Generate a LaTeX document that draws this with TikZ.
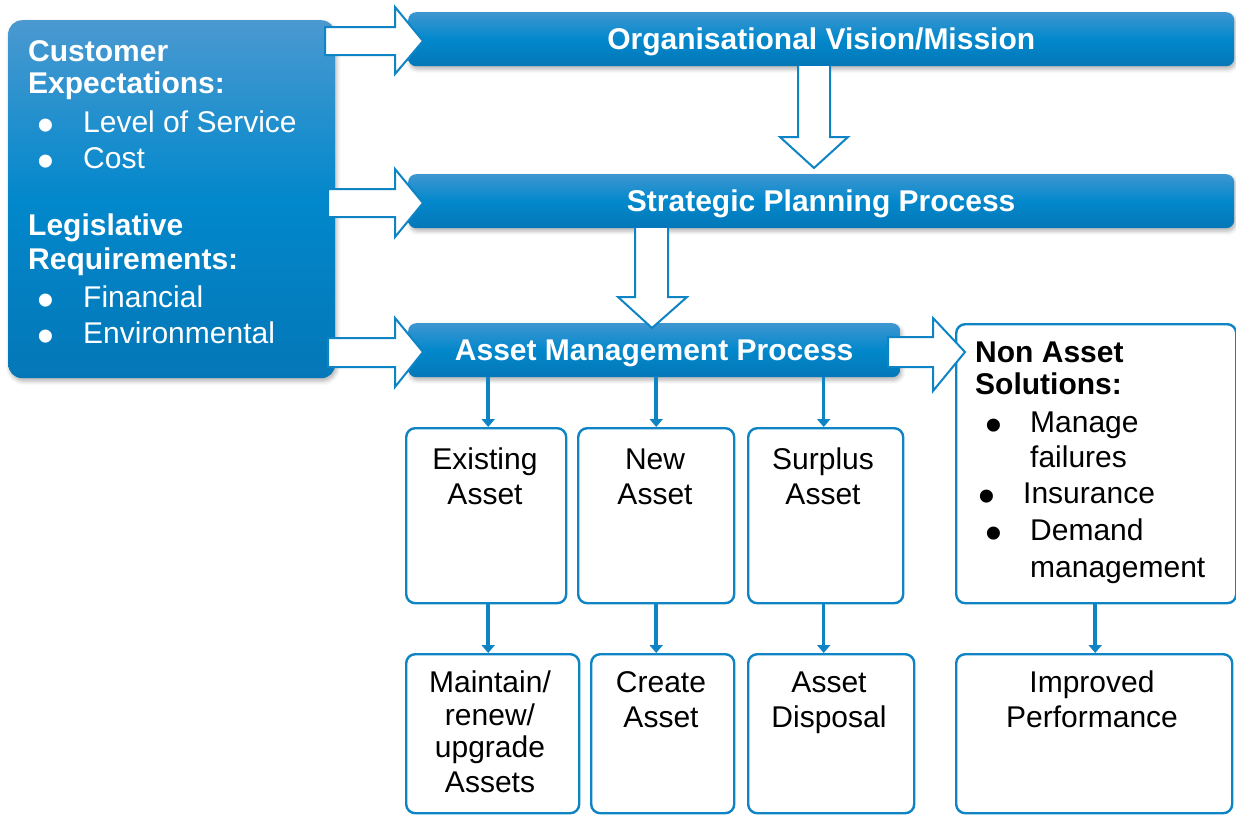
\documentclass[tikz,border=0pt]{standalone}
\usepackage{fontspec}
\usepackage{graphicx}
\setmainfont{Liberation Sans}
\usetikzlibrary{arrows.meta,shadows.blur,calc}

\definecolor{amblue}{RGB}{14,132,196}
\definecolor{bartop}{RGB}{62,150,208}
\definecolor{barmid}{RGB}{2,136,204}
\definecolor{barbot}{RGB}{4,119,183}
\definecolor{boxtop}{RGB}{74,153,208}

% bullet mark used in the lists (no height or depth, so lines keep their spacing)
\newcommand\bul[2]{\makebox[#1pt][l]{\hspace{#2pt}\raisebox{-9pt}[0pt][0pt]{\scalebox{1.6}{\textbullet}}}}

\tikzset{
  txt/.style={font=\fontsize{30}{32}\selectfont, inner sep=0pt},
  bar/.style={rounded corners=8pt, top color=bartop, bottom color=barbot, middle color=barmid,
    inner sep=0pt, text=white, font=\bfseries\fontsize{30}{32}\selectfont,
    text height=21.5pt, text depth=0pt, anchor=north west,
    blur shadow={shadow xshift=1.5pt, shadow yshift=-3pt, shadow blur radius=4pt, shadow opacity=30}},
  inbox/.style={rounded corners=14pt, top color=boxtop, bottom color=barbot, middle color=barmid,
    inner sep=0pt, anchor=north west,
    blur shadow={shadow xshift=1.5pt, shadow yshift=-3pt, shadow blur radius=4pt, shadow opacity=30}},
  wbox/.style={draw=amblue, line width=2.4pt, rounded corners=9pt, fill=white, inner sep=0pt, anchor=north west},
  blockarrow/.style={draw=amblue, line width=2pt, fill=white, line join=miter},
  thin/.style={draw=amblue, line width=3.5pt, -{Triangle[width=13pt,length=8pt]}}
}

\begin{document}
\begin{tikzpicture}[x=1pt,y=-1pt]
\useasboundingbox (0,0) rectangle (1236,814);

% input box on the left
\node[inbox, minimum width=327pt, minimum height=358pt] (inputs) at (8,20) {};
\node[txt, text=white, anchor=base west] (inputstext) at (28,61) {%
  \begin{tabular}[t]{@{}l@{}}
  \textbf{Customer}\\
  \textbf{Expectations:}\\[7pt]
  \bul{55}{9}Level of Service\\[4pt]
  \bul{55}{9}Cost\\[35pt]
  \textbf{Legislative}\\[2pt]
  \textbf{Requirements:}\\[6pt]
  \bul{55}{9}Financial\\[4pt]
  \bul{55}{9}Environmental
  \end{tabular}};

% process bars
\node[bar, minimum width=826pt, minimum height=54pt] (vision) at (408,12) {Organisational Vision/Mission};
\node[bar, minimum width=826pt, minimum height=54pt] (strategy) at (408,174) {Strategic Planning Process};
\node[bar, minimum width=492pt, minimum height=54pt] (amp) at (408,323) {Asset Management Process};

% asset boxes
\node[wbox, minimum width=160pt, minimum height=175pt] (existing) at (405,427) {};
\node[wbox, minimum width=156pt, minimum height=175pt] (new) at (577,427) {};
\node[wbox, minimum width=155pt, minimum height=175pt] (surplus) at (747,427) {};
\node[wbox, minimum width=280pt, minimum height=279pt] (nonasset) at (955,323) {};

\node[wbox, minimum width=173pt, minimum height=159pt] (maintain) at (405,653) {};
\node[wbox, minimum width=143pt, minimum height=159pt] (create) at (590,653) {};
\node[wbox, minimum width=166pt, minimum height=159pt] (disposal) at (747,653) {};
\node[wbox, minimum width=276pt, minimum height=159pt] (improved) at (955,653) {};

% box texts
\node[txt, anchor=base] (existingtext) at (485,469) {\begin{tabular}[t]{@{}c@{}}Existing\\[3pt]Asset\end{tabular}};
\node[txt, anchor=base] (newtext) at (655,469) {\begin{tabular}[t]{@{}c@{}}New\\[3pt]Asset\end{tabular}};
\node[txt, anchor=base] (surplustext) at (823,469) {\begin{tabular}[t]{@{}c@{}}Surplus\\[3pt]Asset\end{tabular}};
\node[txt, anchor=base west] (nonassettext) at (975,362) {%
  \begin{tabular}[t]{@{}l@{}}
  \textbf{Non Asset}\\
  \textbf{Solutions:}\\[6pt]
  \bul{55}{10}Manage\\[3pt]
  \hspace{55pt}failures\\[4pt]
  \bul{48}{3}Insurance\\[5pt]
  \bul{55}{10}Demand\\[5pt]
  \hspace{55pt}management
  \end{tabular}};

\node[txt, anchor=base] (maintaintext) at (490,692) {\begin{tabular}[t]{@{}c@{}}Maintain/\\[1pt]renew/\\upgrade\\[3pt]Assets\end{tabular}};
\node[txt, anchor=base] (createtext) at (661,692) {\begin{tabular}[t]{@{}c@{}}Create\\[3pt]Asset\end{tabular}};
\node[txt, anchor=base] (disposaltext) at (829,692) {\begin{tabular}[t]{@{}c@{}}Asset\\[3pt]Disposal\end{tabular}};
\node[txt, anchor=base] (improvedtext) at (1092,692) {\begin{tabular}[t]{@{}c@{}}Improved\\[3pt]Performance\end{tabular}};

% hollow block arrows from the inputs into the bars
\draw[blockarrow] (325,27) -- (395,27) -- (395,7) -- (423,41) -- (395,74) -- (395,55) -- (325,55) -- cycle;
\draw[blockarrow] (328,189) -- (395,189) -- (395,169) -- (423,203) -- (395,237) -- (395,217) -- (328,217) -- cycle;
\draw[blockarrow] (328,338) -- (395,338) -- (395,318) -- (423,352) -- (395,387) -- (395,367) -- (328,367) -- cycle;
% asset management to non asset solutions
\draw[blockarrow] (888,337) -- (933,337) -- (933,318) -- (965,352) -- (933,391) -- (933,367) -- (888,367) -- cycle;
% vision down to strategy, strategy down to asset management
\draw[blockarrow] (798,66) -- (798,137) -- (780,137) -- (814,168) -- (848,137) -- (830,137) -- (830,66);
\draw[blockarrow] (635,228) -- (635,297) -- (618,297) -- (652,328) -- (687,297) -- (668,297) -- (668,228);

% thin connectors
\draw[thin] (amp.south -| existing.north) ++(2,0) coordinate (c1) -- (c1 |- existing.north);
\draw[thin] (amp.south -| new.north) -- (new.north);
\draw[thin] (amp.south -| surplus.north) ++(-2,0) coordinate (c3) -- (c3 |- surplus.north);
\draw[thin] (existing.south) ++(2,0) coordinate (c4) -- (c4 |- maintain.north);
\draw[thin] (new.south) coordinate (c5) -- (c5 |- create.north);
\draw[thin] (surplus.south) ++(-2,0) coordinate (c6) -- (c6 |- disposal.north);
\draw[thin] (nonasset.south) ++(-1,0) coordinate (c7) -- (c7 |- improved.north);
\end{tikzpicture}
\end{document}
